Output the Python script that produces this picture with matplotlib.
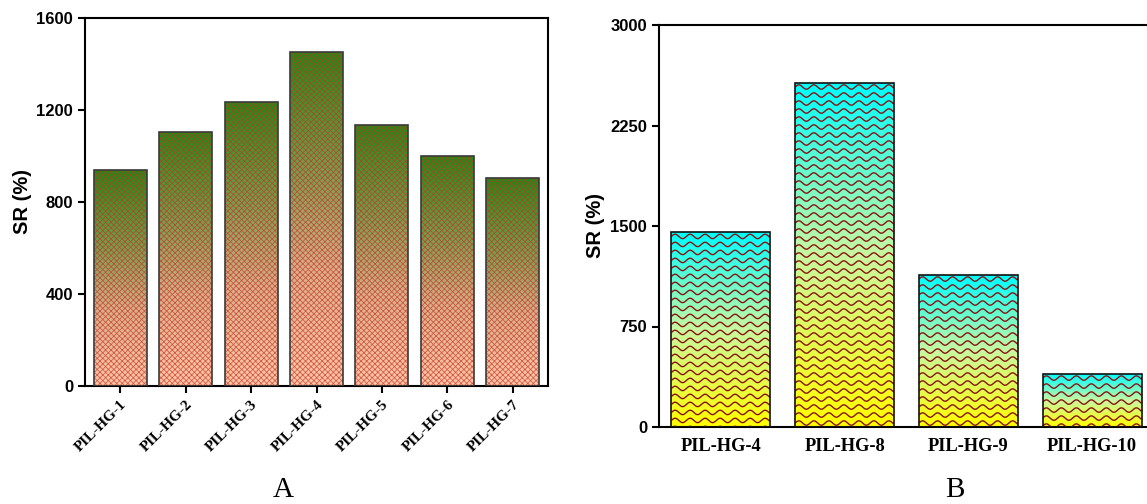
import numpy as np
import matplotlib
matplotlib.use("Agg")
import matplotlib.pyplot as plt
from matplotlib.colors import LinearSegmentedColormap

# ---- data ----
cats_a = ["PIL-HG-1", "PIL-HG-2", "PIL-HG-3", "PIL-HG-4", "PIL-HG-5", "PIL-HG-6", "PIL-HG-7"]
sr_a = [939, 1105, 1233, 1452, 1135, 1000, 904]
yticks_a = [0, 400, 800, 1200, 1600]

cats_b = ["PIL-HG-4", "PIL-HG-8", "PIL-HG-9", "PIL-HG-10"]
sr_b = [1452, 2567, 1134, 395]
yticks_b = [0, 750, 1500, 2250, 3000]

W, H = 1147, 504
fig = plt.figure(figsize=(W / 100, H / 100), dpi=100)

sans = ["Liberation Sans", "DejaVu Sans"]
serif = ["Liberation Serif", "DejaVu Serif"]

cmap_a = LinearSegmentedColormap.from_list(
    "ga", [(0.0, "#FFC6A6"), (0.35, "#D9AE88"), (0.62, "#7E9E50"), (1.0, "#1C8C12")])
cmap_b = LinearSegmentedColormap.from_list("gb", ["#FFFF00", "#C8F8A0", "#00FFFF"])
grad = np.linspace(0, 1, 256).reshape(-1, 1)


def gradient_bars(ax, bars, cmap):
    for b in bars:
        x0, y0 = b.get_x(), b.get_y()
        w, h = b.get_width(), b.get_height()
        im = ax.imshow(grad, cmap=cmap, origin="lower", aspect="auto",
                       extent=(x0, x0 + w, y0, y0 + h), zorder=1,
                       interpolation="bilinear")
        im.set_clip_path(b)


def style_axes(ax):
    for s in ax.spines.values():
        s.set_linewidth(1.5)
        s.set_color("black")
    ax.tick_params(axis="both", direction="out", width=1.5, length=5)
    for lab in ax.get_yticklabels():
        lab.set_family(sans)
        lab.set_fontweight("bold")
        lab.set_fontsize(12)


# ---- Panel A ----
axA = fig.add_axes([85 / W, 1 - 386 / H, (548 - 85) / W, (386 - 18) / H])
xa = np.arange(len(cats_a))
barsA = axA.bar(xa, sr_a, width=0.81, color="none", edgecolor="none", zorder=2)
axA.set_xlim(-0.54, len(cats_a) - 0.46)
axA.set_ylim(0, 1600)
gradient_bars(axA, barsA, cmap_a)
plt.rcParams["hatch.linewidth"] = 0.55
axA.bar(xa, sr_a, width=0.81, color="none", edgecolor=(0.78, 0.2, 0.15, 0.75), linewidth=0,
        hatch="xxxxxx", zorder=3)
axA.bar(xa, sr_a, width=0.81, color="none", edgecolor="#3A3A3A", linewidth=1.2, zorder=4)
axA.set_yticks(yticks_a)
axA.set_xticks(xa)
axA.set_xticklabels(cats_a, rotation=45, ha="right", rotation_mode="anchor",
                    family=serif, fontweight="bold", fontsize=11)
axA.set_ylabel("SR (%)", family=sans, fontweight="bold", fontsize=14.5, labelpad=3)
style_axes(axA)

# ---- Panel B ----
axB = fig.add_axes([659 / W, 1 - 427 / H, (1154 - 659) / W, (427 - 25) / H])
xb = np.arange(len(cats_b))
barsB = axB.bar(xb, sr_b, width=0.8, color="none", edgecolor="none", zorder=2)
axB.set_xlim(-0.5, len(cats_b) - 0.5)
axB.set_ylim(0, 3000)
gradient_bars(axB, barsB, cmap_b)

# wavy hatch texture, built from each bar's geometry
ax_w_px = (1154 - 659)
ax_h_px = (427 - 25)
ux = (len(cats_b)) / ax_w_px      # data units per pixel (x)
uy = 3000 / ax_h_px               # data units per pixel (y)
lam, amp, gap = 15 * ux, 2.2 * uy, 8.0 * uy
for b in barsB:
    x0, w, h = b.get_x(), b.get_width(), b.get_height()
    xs = np.linspace(x0, x0 + w, 400)
    yrow = h - 4 * uy
    while yrow > -gap:
        ys = yrow + amp * np.sin(2 * np.pi * (xs - x0) / lam)
        ln, = axB.plot(xs, ys, color="#8A1212", lw=1.0, zorder=3, solid_capstyle="butt")
        ln.set_clip_path(b)
        yrow -= gap
axB.bar(xb, sr_b, width=0.8, color="none", edgecolor="#111111", linewidth=1.2, zorder=4)
axB.set_yticks(yticks_b)
axB.set_xticks(xb)
axB.set_xticklabels(cats_b, family=serif, fontweight="bold", fontsize=13.3)
axB.set_ylabel("SR (%)", family=sans, fontweight="bold", fontsize=14.5, labelpad=4)
style_axes(axB)
axB.tick_params(axis="x", length=0, pad=8)

fig.text(283 / W, 1 - 490 / H, "A", family=serif, fontsize=21, ha="center", va="center")
fig.text(955 / W, 1 - 490 / H, "B", family=serif, fontsize=21, ha="center", va="center")

fig.savefig("out.png", dpi=100)
